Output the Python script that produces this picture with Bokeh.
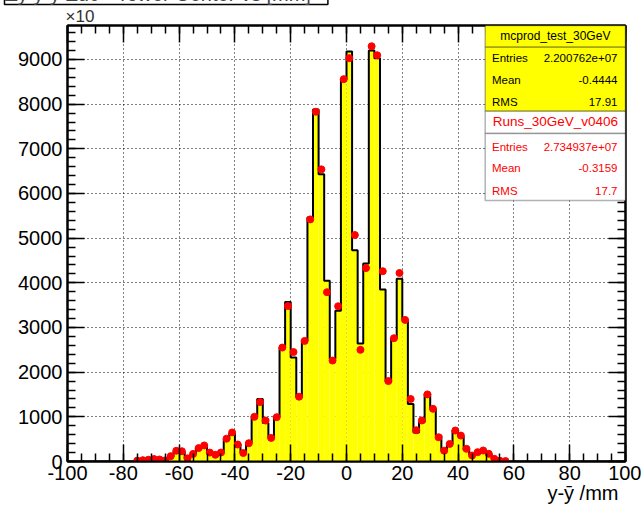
from bokeh.plotting import figure
from bokeh.models import LinearAxis, SingleIntervalTicker, BoxAnnotation, Label, Range1d, Title
from bokeh.embed import file_html
from bokeh.resources import INLINE

# 100 bins of 2 mm over [-100, 100]
bin_edges = list(range(-100, 102, 2))

# simulation (yellow histogram), counts per bin
mc_counts = (
    [0] * 12 +
    [20, 35, 45, 55, 40, 30, 110, 230, 210, 70,            # -76 .. -58
     160, 290, 350, 210, 140, 190, 490, 630, 390, 200,     # -56 .. -38
     420, 1020, 1400, 860, 520, 1000, 2554, 3570, 2331, 1440,  # -36 .. -18
     2704, 5460, 7880, 6430, 4045, 2295, 3374, 8552, 9180, 4730,  # -16 .. 2
     2640, 4432, 9200, 9030, 3850, 1790, 2760, 4090, 3160, 1290,  # 4 .. 22
     650, 880, 1517, 1180, 580, 243, 393, 700, 560, 260,   # 24 .. 42
     150, 180, 250, 170, 60, 20, 5] +                      # 44 .. 56
    [0] * 21
)

# run data (red points), counts per bin
data_counts = (
    [0] * 12 +
    [20, 30, 40, 55, 45, 25, 120, 240, 230, 70,
     170, 300, 360, 200, 150, 200, 510, 650, 380, 190,
     410, 1000, 1330, 917, 528, 993, 2551, 3480, 2450, 1450,
     2700, 5420, 7830, 6540, 3790, 2260, 3475, 8560, 9030, 5070,
     2500, 4330, 9296, 9095, 4260, 1800, 2760, 4220, 3170, 1400,
     700, 918, 1502, 1180, 543, 243, 393, 694, 581, 284,
     134, 209, 246, 172, 60, 15, 10] +
    [0] * 21
)

x_ticks = list(range(-100, 101, 20))
y_ticks = list(range(0, 10000, 1000))

mc_stats = [("Entries", "2.200762e+07"), ("Mean", "-0.4444"), ("RMS", "17.91")]
data_stats = [("Entries", "2.734937e+07"), ("Mean", "-0.3159"), ("RMS", "17.7")]
mc_name = "mcprod_test_30GeV"
data_name = "Runs_30GeV_v0406"
hist_title = "\u0394y  y-\u0233  Zdc - Tower Center  vs [mm]"
x_title = "y-\u0233 /mm"
y_exponent = "\u00d710"

FONT = "Liberation Sans"
W, H = 641, 507
FL, FR, FT, FB = 67, 625, 25, 461   # frame edges on the canvas
x_lo, x_hi = -100, 100
y_lo, y_hi = 0, 1.05 * max(data_counts)


def cx(px):
    return x_lo + (px - FL) / (FR - FL) * (x_hi - x_lo)


def cy(py):
    return y_lo + (FB - py) / (FB - FT) * (y_hi - y_lo)


p = figure(width=W, height=H, output_backend="svg", toolbar_location=None,
           x_range=Range1d(x_lo, x_hi), y_range=Range1d(y_lo, y_hi),
           min_border_left=FL, min_border_right=W - FR,
           min_border_top=FT, min_border_bottom=H - FB,
           background_fill_color="white", border_fill_color="white",
           outline_line_color="black", outline_line_width=2)

xt = SingleIntervalTicker(interval=20, num_minor_ticks=4)
yt = SingleIntervalTicker(interval=1000, num_minor_ticks=5)


def style_axis(ax, show_labels):
    ax.axis_line_color = "black"
    ax.axis_line_width = 2
    ax.major_tick_in = 17
    ax.major_tick_out = 0
    ax.minor_tick_in = 8
    ax.minor_tick_out = 0
    ax.major_tick_line_width = 1.5
    ax.minor_tick_line_width = 1.5
    ax.major_tick_line_color = "black"
    ax.minor_tick_line_color = "black"
    if show_labels:
        ax.major_label_text_font = FONT
        ax.major_label_text_font_size = "20px"
        ax.major_label_text_color = "black"
    else:
        ax.major_label_text_font_size = "1px"
        ax.major_label_text_color = None
        ax.major_label_standoff = 0


p.xaxis[0].ticker = xt
p.yaxis[0].ticker = yt
style_axis(p.xaxis[0], True)
style_axis(p.yaxis[0], True)
p.xaxis[0].major_label_standoff = 4
p.yaxis[0].major_label_standoff = 5
p.xaxis[0].major_label_overrides = {t: str(t) for t in x_ticks}
p.yaxis[0].major_label_overrides = {t: str(t) for t in y_ticks}

top_ax = LinearAxis(ticker=SingleIntervalTicker(interval=20, num_minor_ticks=4))
right_ax = LinearAxis(ticker=SingleIntervalTicker(interval=1000, num_minor_ticks=5))
style_axis(top_ax, False)
style_axis(right_ax, False)
p.add_layout(top_ax, "above")
p.add_layout(right_ax, "right")

for g, tk in ((p.xgrid[0], xt), (p.ygrid[0], yt)):
    g.ticker = tk
    g.grid_line_color = "black"
    g.grid_line_dash = "1 3"
    g.grid_line_width = 1
    g.grid_line_alpha = 1

# yellow filled histogram with black step outline
lefts = bin_edges[:-1]
rights = bin_edges[1:]
p.quad(left=lefts, right=rights, bottom=0, top=mc_counts,
       fill_color="#ffff00", line_color=None)
p.step(x=bin_edges, y=mc_counts + [mc_counts[-1]], mode="after",
       line_color="black", line_width=2)

# red data points at bin centres
pts_x = [(l + r) / 2 for l, r, c in zip(lefts, rights, data_counts) if c > 0]
pts_y = [c for c in data_counts if c > 0]
p.scatter(x=pts_x, y=pts_y, marker="circle", size=7,
          fill_color="#ff0000", line_color="#ff0000")

# statistics boxes (top right)
BX0, BX1 = 484.7, FR


def box(t, b, fill):
    p.add_layout(BoxAnnotation(left=cx(BX0), right=cx(BX1), top=cy(t), bottom=cy(b),
                               fill_color=fill, fill_alpha=1,
                               line_color="black", line_width=1.5))


box(FT, 46.7, "#ffff00")
box(46.7, 110.7, "#ffff00")
box(110.7, 133, "white")
box(133, 200, "white")


def text(px, py, s, size, color="black", align="left", baseline="middle"):
    p.add_layout(Label(x=cx(px), y=cy(py), text=s, text_font=FONT,
                       text_font_size=size, text_color=color,
                       text_align=align, text_baseline=baseline))


text((BX0 + BX1) / 2, 35.5, mc_name, "12px", align="center")
for (k, v), py in zip(mc_stats, (57, 79, 101)):
    text(491.5, py, k, "11.5px")
    text(617, py, v, "11.5px", align="right")

text((BX0 + BX1) / 2, 121, data_name, "13.5px", color="#ff0000", align="center")
for (k, v), py in zip(data_stats, (146, 167, 190)):
    text(491.5, py, k, "11.5px", color="#ff0000")
    text(617, py, v, "11.5px", color="#ff0000", align="right")

# x-axis title at the right end, below the tick labels
p.add_layout(Title(text=x_title, align="right", offset=7, standoff=-5,
                   text_font=FONT, text_font_size="20px", text_font_style="normal",
                   text_color="black"), "below")

# exponent marker above the y axis
p.add_layout(Title(text=y_exponent, align="left", offset=-2, standoff=0,
                   text_font=FONT, text_font_size="17px", text_font_style="normal",
                   text_color="#333333"), "above")

# histogram title in a box at the top edge
p.title.text = hist_title
p.title.align = "left"
p.title.vertical_align = "top"
p.title.offset = -63
p.title.standoff = -44
p.title.text_font = FONT
p.title.text_font_size = "20px"
p.title.text_font_style = "normal"
p.title.background_fill_color = "white"
p.title.border_line_color = "black"
p.title.border_line_width = 1.5

open("out.html", "w").write(file_html(p, INLINE))
